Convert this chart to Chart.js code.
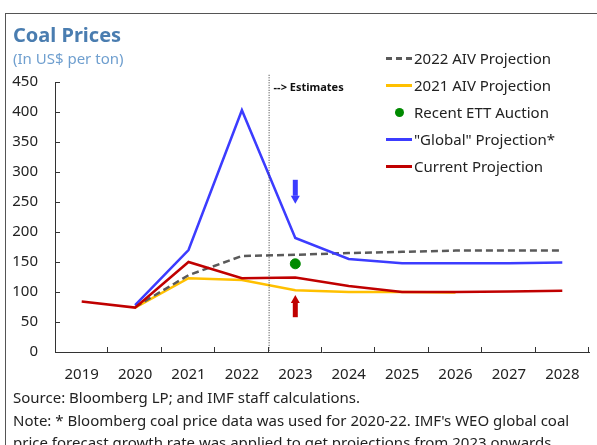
<!DOCTYPE html>
<html>
<head>
<meta charset="utf-8">
<script src="https://cdn.jsdelivr.net/npm/chart.js@4.4.0/dist/chart.umd.min.js"></script>
<style>
  body { margin: 0; background: #fff; font-family: "Noto Sans", sans-serif; }
  #wrap { position: relative; width: 597px; height: 445px; overflow: hidden; }
  #frame { position: absolute; left: 5px; top: 13px; width: 640px; height: 460px;
           border-top: 1px solid #555; border-left: 1px solid #555; }
  canvas { position: absolute; left: 0; top: 0; }
  .title { position: absolute; left: 13px; top: 21px; font-size: 20px; font-weight: bold; color: #4a7db0; }
  .sub { position: absolute; left: 13px; top: 48px; font-size: 15px; color: #6f9fcf; }
  #legend { position: absolute; left: 386px; top: 44px; font-size: 15px; color: #222; }
  #legend .row { height: 27px; display: flex; align-items: center; white-space: nowrap; }
  #legend .sw { width: 26px; height: 14px; margin-right: 2px; position: relative; }
  .foot { position: absolute; left: 13px; font-size: 15px; color: #222; white-space: nowrap; }
</style>
</head>
<body>
<div id="wrap">
  <div id="frame"></div>
  <canvas id="myChart" width="597" height="445"></canvas>
  <div class="title">Coal Prices</div>
  <div class="sub">(In US$ per ton)</div>
  <div id="legend"></div>
  <div class="foot" style="top:387px">Source: Bloomberg LP; and IMF staff calculations.</div>
  <div class="foot" style="top:410px">Note: * Bloomberg coal price data was used for 2020-22. IMF's WEO global coal</div>
  <div class="foot" style="top:432px">price forecast growth rate was applied to get projections from 2023 onwards.</div>
</div>
<script>
const years = ['2019', '2020', '2021', '2022', '2023', '2024', '2025', '2026', '2027', '2028'];
const aiv2022 = [null, 75, 128, 160, 162, 165, 167, 169, 169, 169];
const aiv2021 = [null, 74, 123, 120, 103, 100, 100, 99, null, null];
const ettAuction = [null, null, null, null, 147, null, null, null, null, null];
const globalProj = [null, 78, 170, 403, 190, 155, 148, 148, 148, 149];
const currentProj = [84, 74, 150, 123, 124, 110, 100, 100, 101, 102];
const yTicks = [0, 50, 100, 150, 200, 250, 300, 350, 400, 450];

const grey = '#5a5a5a';
const yellow = '#ffc000';
const green = '#008a00';
const blue = '#3c3cff';
const red = '#c00000';

// vertical dotted line, "Estimates" label, the two arrows and inward ticks
const extras = {
  id: 'extras',
  afterDatasetsDraw(chart) {
    const { ctx, scales: { x, y } } = chart;
    ctx.save();
    const xs = x.getPixelForValue(3.5);
    ctx.strokeStyle = '#333';
    ctx.lineWidth = 1;
    ctx.setLineDash([1, 1.5]);
    ctx.beginPath();
    ctx.moveTo(xs + 0.5, y.getPixelForValue(462));
    ctx.lineTo(xs + 0.5, y.getPixelForValue(0));
    ctx.stroke();
    ctx.setLineDash([]);
    ctx.fillStyle = '#111';
    ctx.font = 'bold 11px "Noto Sans"';
    ctx.textBaseline = 'middle';
    ctx.fillText('--> Estimates', xs + 5, y.getPixelForValue(441));

    const arrows = [
      { at: 4, from: 287, to: 247, color: blue },
      { at: 4, from: 58, to: 95, color: red },
    ];
    arrows.forEach(a => {
      const px = x.getPixelForValue(a.at);
      const y0 = y.getPixelForValue(a.from);
      const y1 = y.getPixelForValue(a.to);
      const dir = y1 > y0 ? 1 : -1;
      const head = 8 * dir;
      ctx.fillStyle = a.color;
      ctx.fillRect(px - 2.5, Math.min(y0, y1 - head), 5, Math.abs(y1 - head - y0));
      ctx.beginPath();
      ctx.moveTo(px - 4.5, y1 - head);
      ctx.lineTo(px + 4.5, y1 - head);
      ctx.lineTo(px, y1);
      ctx.closePath();
      ctx.fill();
    });

    ctx.strokeStyle = '#333';
    ctx.lineWidth = 1;
    yTicks.forEach(v => {
      const py = Math.round(y.getPixelForValue(v)) + 0.5;
      ctx.beginPath();
      ctx.moveTo(x.left, py);
      ctx.lineTo(x.left + 5, py);
      ctx.stroke();
    });
    for (let i = 0.5; i <= years.length; i++) {
      const px = Math.round(x.getPixelForValue(i)) - 0.5;
      ctx.beginPath();
      ctx.moveTo(px, y.bottom);
      ctx.lineTo(px, y.bottom - 5);
      ctx.stroke();
    }
    ctx.restore();
  }
};

const ctx = document.getElementById('myChart').getContext('2d');
const myChart = new Chart(ctx, {
  type: 'line',
  data: {
    labels: years,
    datasets: [
      {
        label: '2022 AIV Projection',
        data: aiv2022,
        borderColor: grey,
        borderWidth: 2.5,
        borderDash: [7, 4],
        pointRadius: 0,
        order: 4,
      },
      {
        label: '2021 AIV Projection',
        data: aiv2021,
        borderColor: yellow,
        borderWidth: 2.5,
        pointRadius: 0,
        order: 5,
      },
      {
        label: 'Recent ETT Auction',
        data: ettAuction,
        showLine: false,
        pointRadius: 5,
        pointBackgroundColor: green,
        pointBorderColor: green,
        order: 1,
      },
      {
        label: '"Global" Projection*',
        data: globalProj,
        borderColor: blue,
        borderWidth: 2.5,
        pointRadius: 0,
        order: 3,
      },
      {
        label: 'Current Projection',
        data: currentProj,
        borderColor: red,
        borderWidth: 2.5,
        pointRadius: 0,
        order: 2,
      },
    ],
  },
  options: {
    responsive: false,
    animation: false,
    layout: { padding: { top: 82, right: 8, left: 0, bottom: 0 } },
    plugins: {
      legend: { display: false },
      tooltip: { enabled: false },
    },
    scales: {
      y: {
        min: 0,
        max: 450,
        afterFit: (s) => { s.width = 55; },
        afterBuildTicks: (s) => { s.ticks = yTicks.map(v => ({ value: v })); },
        ticks: {
          color: '#222',
          padding: 17,
          font: { size: 15, family: '"Noto Sans"' },
        },
        grid: { display: false, drawTicks: false },
        border: { color: '#333' },
      },
      x: {
        offset: true,
        afterFit: (s) => { s.height = 93; },
        ticks: {
          color: '#222',
          padding: 14,
          maxRotation: 0,
          font: { size: 15, family: '"Noto Sans"' },
        },
        grid: { display: false, drawTicks: false },
        border: { color: '#333' },
      },
    },
  },
  plugins: [extras],
});

// html legend built from the datasets
const legend = document.getElementById('legend');
myChart.data.datasets.forEach(ds => {
  const row = document.createElement('div');
  row.className = 'row';
  const sw = document.createElement('div');
  sw.className = 'sw';
  if (ds.showLine === false) {
    sw.innerHTML = '<div style="position:absolute;left:9px;top:3px;width:9px;height:9px;border-radius:50%;background:' + green + '"></div>';
  } else {
    const style = ds.borderDash ? 'dashed' : 'solid';
    sw.innerHTML = '<div style="position:absolute;left:0;top:6px;width:26px;border-top:3px ' + style + ' ' + ds.borderColor + '"></div>';
  }
  row.appendChild(sw);
  row.appendChild(document.createTextNode(ds.label));
  legend.appendChild(row);
});
</script>
</body>
</html>
